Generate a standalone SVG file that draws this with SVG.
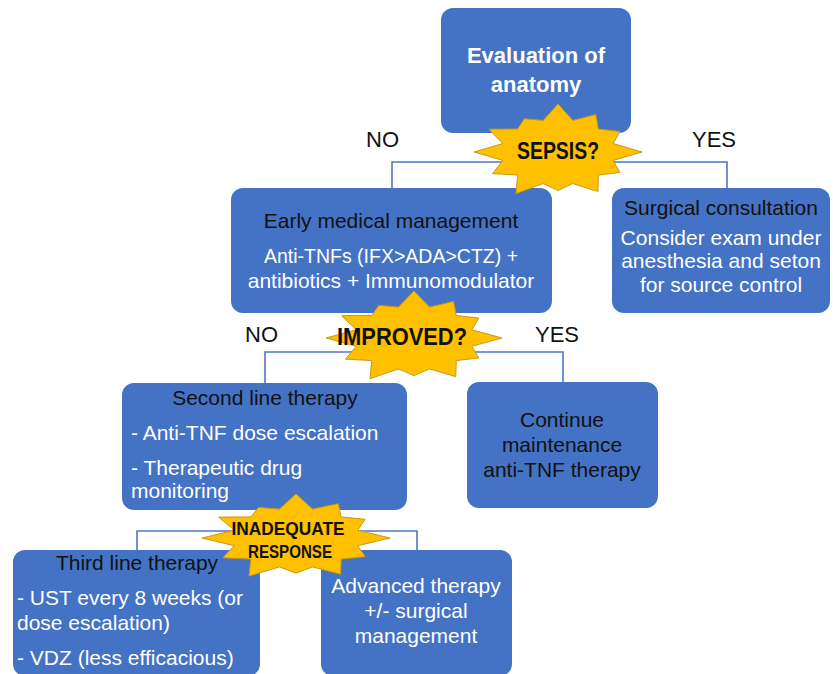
<svg xmlns="http://www.w3.org/2000/svg" xmlns:xlink="http://www.w3.org/1999/xlink" width="833" height="674" viewBox="0 0 833 674">
<style>
.box{fill:#4472C4;}
.t{font-family:"Liberation Sans",Arial,sans-serif;font-size:21px;}
.w{fill:#FFFFFF;}
.k{fill:#111111;}
.c{text-anchor:middle;}
.b{font-weight:bold;}
.lbl{font-family:"Liberation Sans",Arial,sans-serif;font-size:22px;fill:#111111;}
.conn{fill:none;stroke:#4F77C4;stroke-width:1.6;}
.star{fill:#FFC000;stroke:#C99A10;stroke-width:1;}
.st{font-family:"Liberation Sans",Arial,sans-serif;font-weight:bold;fill:#111111;text-anchor:middle;}
</style>
<defs>
<polygon id="burst" vector-effect="non-scaling-stroke" points="1,0 0.657,0.176 0.736,0.425 0.48,0.48 0.475,0.823 0.176,0.657 0,0.8 -0.176,0.657 -0.5,0.866 -0.48,0.48 -0.779,0.45 -0.657,0.176 -1,0 -0.657,-0.176 -0.823,-0.475 -0.48,-0.48 -0.4,-0.693 -0.176,-0.657 0,-1 0.176,-0.657 0.45,-0.779 0.48,-0.48 0.736,-0.425 0.657,-0.176"/>
</defs>
<rect width="833" height="674" fill="#FFFFFF"/>
<g id="connectors">
<path class="conn" d="M392,188 V162 H727 V188"/>
<path class="conn" d="M265,383 V352 H563 V382"/>
<path class="conn" d="M137,550 V531 H417 V550"/>
</g>
<g id="labels">
<text class="lbl" x="366" y="147">NO</text>
<text class="lbl" x="692" y="147">YES</text>
<text class="lbl" x="245" y="342">NO</text>
<text class="lbl" x="535" y="342">YES</text>
</g>
<g id="evaluation">
<rect class="box" x="441" y="8" width="190" height="125" rx="12"/>
<text class="t w c b" x="536" y="63" style="font-size:22px">Evaluation of</text>
<text class="t w c b" x="536" y="92" style="font-size:22px">anatomy</text>
</g>
<g id="early">
<rect class="box" x="231" y="188" width="321" height="125" rx="12"/>
<text class="t k c" x="391" y="228">Early medical management</text>
<text class="t w c" x="391" y="263" style="font-size:19.5px">Anti-TNFs (IFX&gt;ADA&gt;CTZ) +</text>
<text class="t w c" x="391" y="288">antibiotics + Immunomodulator</text>
</g>
<g id="surgical">
<rect class="box" x="612" y="188" width="218" height="125" rx="12"/>
<text class="t k c" x="721" y="215">Surgical consultation</text>
<text class="t w c" x="721" y="245">Consider exam under</text>
<text class="t w c" x="721" y="268">anesthesia and seton</text>
<text class="t w c" x="721" y="292">for source control</text>
</g>
<g id="second">
<rect class="box" x="122" y="383" width="285" height="127" rx="12"/>
<text class="t k c" x="265" y="405">Second line therapy</text>
<text class="t w" x="131" y="440">- Anti-TNF dose escalation</text>
<text class="t w" x="131" y="475">- Therapeutic drug</text>
<text class="t w" x="131" y="498">monitoring</text>
</g>
<g id="continue">
<rect class="box" x="467" y="382" width="191" height="126" rx="12"/>
<text class="t k c" x="562" y="427">Continue</text>
<text class="t k c" x="562" y="452">maintenance</text>
<text class="t k c" x="562" y="477">anti-TNF therapy</text>
</g>
<g id="third">
<rect class="box" x="13" y="550" width="247" height="126" rx="12"/>
<text class="t k c" x="137" y="570">Third line therapy</text>
<text class="t w" x="17" y="605">- UST every 8 weeks (or</text>
<text class="t w" x="17" y="630">dose escalation)</text>
<text class="t w" x="17" y="665">- VDZ (less efficacious)</text>
</g>
<g id="advanced">
<rect class="box" x="321" y="550" width="191" height="126" rx="12"/>
<text class="t w c" x="416" y="593">Advanced therapy</text>
<text class="t w c" x="416" y="618">+/- surgical</text>
<text class="t w c" x="416" y="643">management</text>
</g>
<g id="sepsis">
<use xlink:href="#burst" href="#burst" class="star" transform="translate(558,152) scale(84,48)"/>
<text class="st" x="558" y="159" style="font-size:23px" textLength="82" lengthAdjust="spacingAndGlyphs">SEPSIS?</text>
</g>
<g id="improved">
<use xlink:href="#burst" href="#burst" class="star" transform="translate(414,338) scale(88,47)"/>
<text class="st" x="402" y="345" style="font-size:23px" textLength="130" lengthAdjust="spacingAndGlyphs">IMPROVED?</text>
</g>
<g id="inadequate">
<use xlink:href="#burst" href="#burst" class="star" transform="translate(296,538) scale(94,44)"/>
<text class="st" x="288" y="535" style="font-size:18px" textLength="113" lengthAdjust="spacingAndGlyphs">INADEQUATE</text>
<text class="st" x="290" y="558" style="font-size:18px" textLength="84" lengthAdjust="spacingAndGlyphs">RESPONSE</text>
</g>
</svg>
